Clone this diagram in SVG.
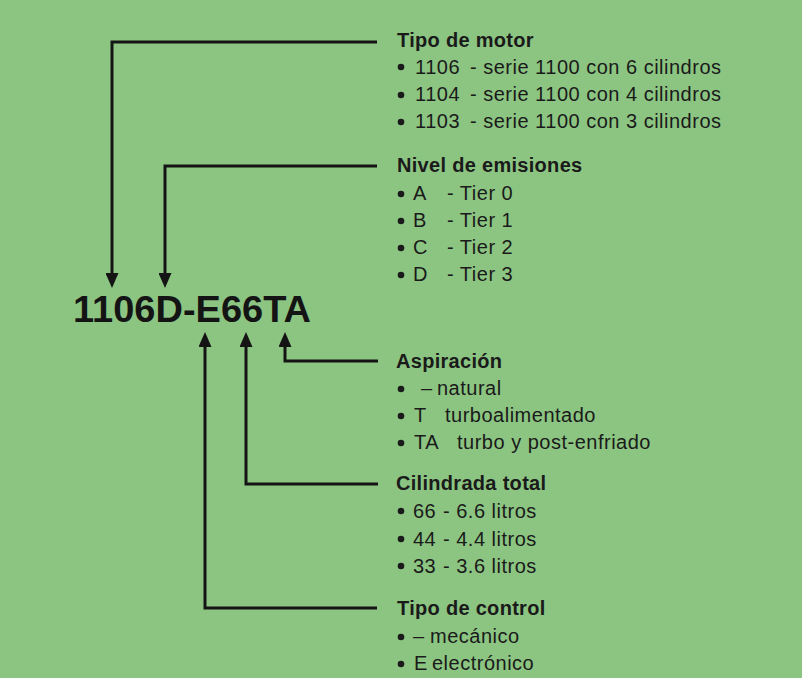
<svg xmlns="http://www.w3.org/2000/svg" width="802" height="678" viewBox="0 0 802 678">
<defs>
<marker id="arr" viewBox="0 0 15 13" refX="2" refY="6.5" markerWidth="15" markerHeight="13" markerUnits="userSpaceOnUse" orient="auto">
<path d="M0,0 L15,6.5 L0,13 z" fill="#141414"/>
</marker>
<style>
.bg{fill:#8cc582}
.conn{fill:none;stroke:#141414;stroke-width:3;marker-end:url(#arr)}
.h{font-family:"Liberation Sans",Arial,sans-serif;font-weight:bold;font-size:20px;letter-spacing:0.3px;fill:#1a1a1a}
.t{font-family:"Liberation Sans",Arial,sans-serif;font-size:20px;letter-spacing:0.5px;fill:#1a1a1a}
.code{font-family:"Liberation Sans",Arial,sans-serif;font-weight:bold;font-size:36px;fill:#141414}
.b{fill:#1a1a1a}
</style>
</defs>
<rect class="bg" x="0" y="0" width="802" height="678"/>
<g id="connectors">
<path class="conn" d="M377,42 H112 V275"/>
<path class="conn" d="M377,166 H165 V275"/>
<path class="conn" d="M378,361 H285 V345"/>
<path class="conn" d="M378,484 H246 V345"/>
<path class="conn" d="M377,608 H205 V345"/>
</g>
<g id="model">
<text class="code" x="73" y="322" textLength="238" lengthAdjust="spacingAndGlyphs">1106D-E66TA</text>
</g>
<g id="tipo-motor">
<text class="h" x="397" y="47">Tipo de motor</text>
<circle class="b" cx="401" cy="67" r="3.3"/>
<circle class="b" cx="401" cy="95" r="3.3"/>
<circle class="b" cx="401" cy="122" r="3.3"/>
<text class="t" y="74"><tspan x="415">1106</tspan><tspan x="470">- serie 1100 con 6 cilindros</tspan></text>
<text class="t" y="101"><tspan x="415">1104</tspan><tspan x="470">- serie 1100 con 4 cilindros</tspan></text>
<text class="t" y="128"><tspan x="415">1103</tspan><tspan x="470">- serie 1100 con 3 cilindros</tspan></text>
</g>
<g id="nivel-emisiones">
<text class="h" x="397" y="172">Nivel de emisiones</text>
<circle class="b" cx="401" cy="194" r="3.3"/>
<circle class="b" cx="401" cy="221" r="3.3"/>
<circle class="b" cx="401" cy="248" r="3.3"/>
<circle class="b" cx="401" cy="275" r="3.3"/>
<text class="t" y="200"><tspan x="413">A</tspan><tspan x="447">- Tier 0</tspan></text>
<text class="t" y="227"><tspan x="413">B</tspan><tspan x="447">- Tier 1</tspan></text>
<text class="t" y="254"><tspan x="413">C</tspan><tspan x="447">- Tier 2</tspan></text>
<text class="t" y="281"><tspan x="413">D</tspan><tspan x="447">- Tier 3</tspan></text>
</g>
<g id="aspiracion">
<text class="h" x="396" y="368">Aspiración</text>
<circle class="b" cx="401" cy="389" r="3.3"/>
<circle class="b" cx="401" cy="416" r="3.3"/>
<circle class="b" cx="401" cy="443" r="3.3"/>
<text class="t" y="395"><tspan x="421">–</tspan><tspan x="437">natural</tspan></text>
<text class="t" y="422"><tspan x="414">T</tspan><tspan x="445">turboalimentado</tspan></text>
<text class="t" y="449"><tspan x="414">TA</tspan><tspan x="457">turbo y post-enfriado</tspan></text>
</g>
<g id="cilindrada">
<text class="h" x="396" y="490">Cilindrada total</text>
<circle class="b" cx="401" cy="511" r="3.3"/>
<circle class="b" cx="401" cy="539" r="3.3"/>
<circle class="b" cx="401" cy="566" r="3.3"/>
<text class="t" y="518"><tspan x="413">66</tspan><tspan x="443">- 6.6 litros</tspan></text>
<text class="t" y="546"><tspan x="413">44</tspan><tspan x="443">- 4.4 litros</tspan></text>
<text class="t" y="573"><tspan x="413">33</tspan><tspan x="443">- 3.6 litros</tspan></text>
</g>
<g id="tipo-control">
<text class="h" x="397" y="615">Tipo de control</text>
<circle class="b" cx="401" cy="637" r="3.3"/>
<circle class="b" cx="401" cy="664" r="3.3"/>
<text class="t" y="643"><tspan x="413">–</tspan><tspan x="430">mecánico</tspan></text>
<text class="t" y="670"><tspan x="414">E</tspan><tspan x="432">electrónico</tspan></text>
</g>
</svg>
